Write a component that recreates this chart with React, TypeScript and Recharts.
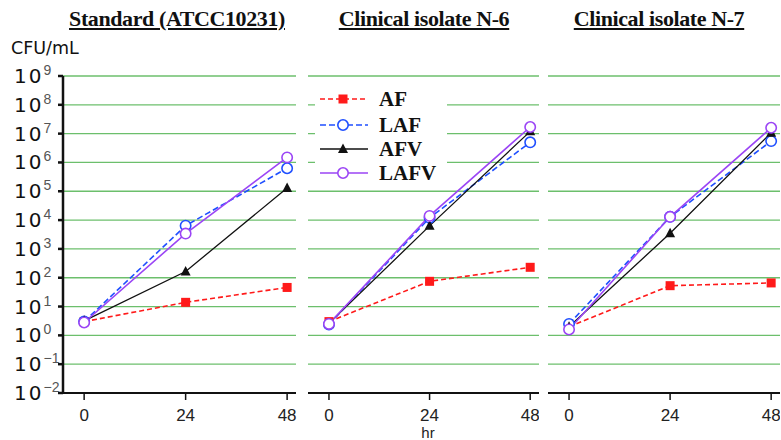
import { LineChart, Line, XAxis, YAxis, CartesianGrid } from "recharts";

const HOURS = [0, 24, 48];
const Y_EXPONENTS = [-2, -1, 0, 1, 2, 3, 4, 5, 6, 7, 8, 9];
const Y_TICKS = Y_EXPONENTS.map((e) => Math.pow(10, e));

// CFU/mL
const stdAF = [3, 14, 46];
const stdLAF = [3, 6400, 630000];
const stdAFV = [3.2, 165, 130000];
const stdLAFV = [2.8, 3400, 1500000];

const n6AF = [3, 75, 230];
const n6LAF = [2.4, 12000, 5000000];
const n6AFV = [2.6, 6300, 12000000];
const n6LAFV = [2.5, 14000, 17000000];

const n7AF = [2, 53, 66];
const n7LAF = [2.5, 13000, 5500000];
const n7AFV = [2, 3500, 10700000];
const n7LAFV = [1.6, 13000, 16000000];

const TITLES = ["Standard (ATCC10231)", "Clinical isolate N-6", "Clinical isolate N-7"];

const STYLE: Record<string, { color: string; dash?: string; width: number }> = {
  AF: { color: "#ff1a1a", dash: "5 3", width: 1.6 },
  LAF: { color: "#1f4fff", dash: "6 3", width: 1.6 },
  AFV: { color: "#111111", width: 1.3 },
  LAFV: { color: "#9b45f5", width: 1.6 },
};
const SERIES = ["AF", "LAF", "AFV", "LAFV"];

function build(af: number[], laf: number[], afv: number[], lafv: number[]) {
  return HOURS.map((t, i) => ({ t, AF: af[i], LAF: laf[i], AFV: afv[i], LAFV: lafv[i] }));
}

const panels = [
  { data: build(stdAF, stdLAF, stdAFV, stdLAFV), left: 0, width: 300, yAxis: true },
  { data: build(n6AF, n6LAF, n6AFV, n6LAFV), left: 308, width: 231, yAxis: false },
  { data: build(n7AF, n7LAF, n7AFV, n7LAFV), left: 548, width: 232, yAxis: false },
];

function Marker({ kind, cx, cy }: { kind: string; cx: number; cy: number }) {
  const c = STYLE[kind].color;
  if (kind === "AF") return <rect x={cx - 4.5} y={cy - 4.5} width={9} height={9} fill={c} />;
  if (kind === "AFV")
    return <polygon points={`${cx},${cy - 5.5} ${cx - 5},${cy + 4} ${cx + 5},${cy + 4}`} fill={c} />;
  return <circle cx={cx} cy={cy} r={5.2} fill="#fff" stroke={c} strokeWidth={1.6} />;
}

const dotFor = (kind: string) => (p: any) => (
  <Marker key={`${kind}-${p.index}`} kind={kind} cx={p.cx} cy={p.cy} />
);

function YTick(props: any) {
  const { y, index } = props;
  const e = Y_EXPONENTS[index];
  return (
    <text x={14} y={y + 7} fontFamily="DejaVu Sans, sans-serif" fontSize={20} fill="#111">
      <tspan letterSpacing={2}>10</tspan>
      <tspan dy={-8} fontSize={14} fill="#555" fontFamily="Liberation Sans, sans-serif">
        {e < 0 ? `\u2212${-e}` : e}
      </tspan>
    </text>
  );
}

const NoTick = () => <g />;

export default function App() {
  return (
    <div style={{ position: "absolute", left: 0, top: 0, width: 781, height: 440, background: "#fff", overflow: "hidden" }}>
      {TITLES.map((t, i) => (
        <div
          key={t}
          style={{
            position: "absolute",
            top: 6,
            left: [177, 424, 659][i] - 140,
            width: 280,
            textAlign: "center",
            fontFamily: "Liberation Serif, serif",
            fontWeight: "bold",
            fontSize: 22,
            letterSpacing: -0.4,
            textDecoration: "underline",
            color: "#111",
          }}
        >
          {t}
        </div>
      ))}
      <div style={{ position: "absolute", left: 11, top: 38, fontFamily: "DejaVu Sans, sans-serif", fontSize: 17.5, color: "#111" }}>
        CFU/mL
      </div>
      {panels.map((p, pi) => (
        <div key={pi} style={{ position: "absolute", left: p.left, top: 0 }}>
          <LineChart
            width={p.width}
            height={440}
            data={p.data}
            margin={{ top: 76, bottom: 0, left: p.yAxis ? 8 : 0, right: p.yAxis ? 4 : 0 }}
          >
            <CartesianGrid vertical={false} stroke="#6cbf6c" strokeWidth={1.3} />
            <XAxis
              dataKey="t"
              type="number"
              domain={[-5, 50.1]}
              ticks={HOURS}
              allowDataOverflow
              height={47}
              axisLine={{ stroke: "#111", strokeWidth: 2 }}
              tickLine={{ stroke: "#111", strokeWidth: 1.5 }}
              tickSize={7}
              tickMargin={9}
              tick={{ fontFamily: "Liberation Sans, sans-serif", fontSize: 17, fill: "#222" }}
            />
            <YAxis
              scale="log"
              domain={[0.01, 1e9]}
              ticks={Y_TICKS}
              allowDataOverflow
              interval={0}
              width={p.yAxis ? 55 : 0}
              axisLine={p.yAxis ? { stroke: "#111", strokeWidth: 2.5 } : false}
              tickLine={p.yAxis ? { stroke: "#111", strokeWidth: 2.5 } : false}
              tickSize={5}
              tick={p.yAxis ? <YTick /> : <NoTick />}
            />
            {SERIES.map((s) => (
              <Line
                key={s}
                dataKey={s}
                stroke={STYLE[s].color}
                strokeWidth={STYLE[s].width}
                strokeDasharray={STYLE[s].dash}
                dot={dotFor(s)}
                isAnimationActive={false}
              />
            ))}
          </LineChart>
        </div>
      ))}
      <div
        style={{
          position: "absolute",
          left: 408,
          width: 40,
          top: 425,
          textAlign: "center",
          lineHeight: 1,
          fontFamily: "Liberation Sans, sans-serif",
          fontSize: 15,
          color: "#222",
        }}
      >
        hr
      </div>
      <div style={{ position: "absolute", left: 315, top: 88, width: 132, height: 95, background: "#fff" }}>
        {SERIES.map((s, i) => (
          <div key={s} style={{ position: "absolute", left: 0, top: [11, 37, 61, 85][i] - 12, height: 24, display: "flex", alignItems: "center" }}>
            <svg width={60} height={24}>
              <line x1={5} x2={53} y1={12} y2={12} stroke={STYLE[s].color} strokeWidth={STYLE[s].width} strokeDasharray={STYLE[s].dash} />
              <Marker kind={s} cx={28} cy={12} />
            </svg>
            <span style={{ marginLeft: 4, fontFamily: "Liberation Serif, serif", fontWeight: "bold", fontSize: 21, color: "#111" }}>{s}</span>
          </div>
        ))}
      </div>
    </div>
  );
}
